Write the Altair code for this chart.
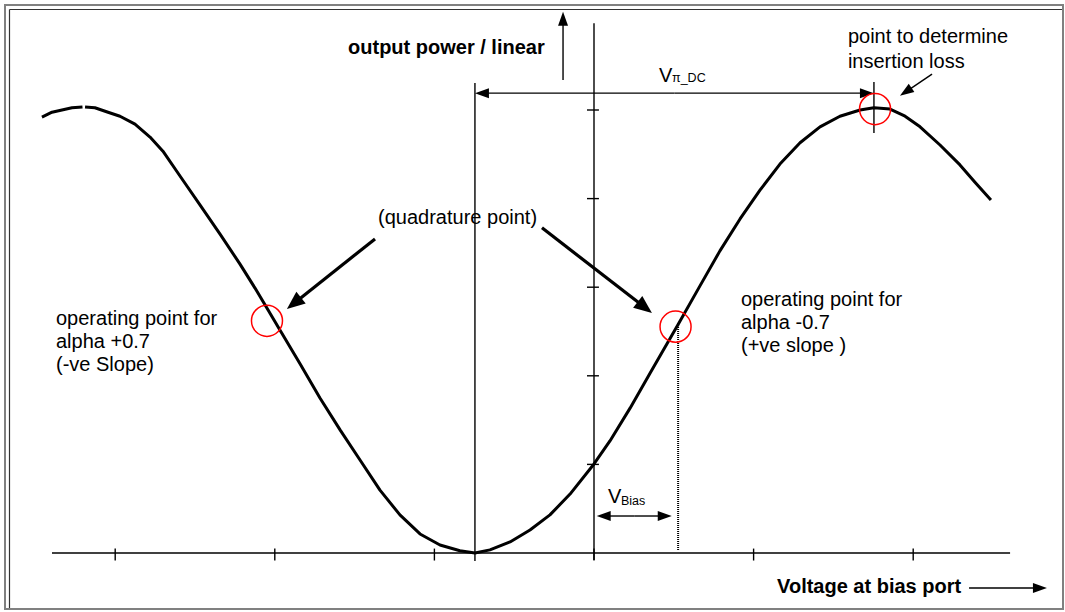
import math
import altair as alt
import pandas as pd

# ---------------------------------------------------------------------------
# Modulator transfer curve: bias voltage (V) vs. output power normalised to peak
# ---------------------------------------------------------------------------
volt_a = [-3.459, -3.396, -3.271, -3.205]
power_a = [0.984, 0.995, 1.005, 1.007]

volt_b = [-3.189, -3.127, -3.045, -2.970, -2.876, -2.782, -2.701, -2.594, -2.469, -2.343,
          -2.218, -2.124, -2.043, -1.967, -1.842, -1.717, -1.591, -1.466, -1.341, -1.216,
          -1.090, -0.965, -0.840, -0.746, -0.652, -0.526, -0.401, -0.276, -0.150, 0.000,
          0.100, 0.226, 0.351, 0.526, 0.664, 0.789, 0.915, 1.040, 1.165, 1.291,
          1.416, 1.541, 1.667, 1.754, 1.855, 1.949, 2.043, 2.168, 2.293, 2.387,
          2.487]
power_b = [1.007, 1.005, 0.995, 0.986, 0.968, 0.939, 0.907, 0.851, 0.786, 0.720,
           0.652, 0.598, 0.549, 0.503, 0.427, 0.350, 0.278, 0.210, 0.142, 0.086,
           0.043, 0.018, 0.005, 0.000, 0.007, 0.025, 0.052, 0.086, 0.133, 0.201,
           0.253, 0.327, 0.406, 0.515, 0.603, 0.682, 0.754, 0.819, 0.878, 0.926,
           0.962, 0.986, 1.000, 1.005, 1.002, 0.986, 0.962, 0.921, 0.876, 0.837,
           0.797]

# axis tick values
x_ticks = [-3, -2, -1, 0, 1, 2]
y_ticks = [0.2, 0.4, 0.6, 0.8, 1.0]

# characteristic points
v_min, v_max = -0.746, 1.754       # minimum and maximum of the curve (V_pi apart)
v_bias = 0.527                      # chosen bias (quadrature, +ve slope)

# marked operating points (red circles)
circ_u = [-2.049, 0.511, 1.761]
circ_v = [0.524, 0.511, 1.002]

# ---------------------------------------------------------------------------
# canvas geometry
# ---------------------------------------------------------------------------
W, H = 1065, 612
X0, Y0 = 594, 553          # where the axes cross on the canvas
SX, SY = 159.6, 443.0      # pixels per volt, pixels per unit power
xs = alt.Scale(domain=[-X0 / SX, (W - X0) / SX], nice=False, zero=False)
ys = alt.Scale(domain=[-(H - Y0) / SY, Y0 / SY], nice=False, zero=False)
X = lambda f="u": alt.X(f"{f}:Q", scale=xs, axis=None)
Y = lambda f="v": alt.Y(f"{f}:Q", scale=ys, axis=None)

FONT = "Liberation Sans"

# ---------------------------------------------------------------------------
# curve
# ---------------------------------------------------------------------------
curve_df = pd.DataFrame({
    "u": volt_a + volt_b,
    "v": power_a + power_b,
    "seg": ["a"] * len(volt_a) + ["b"] * len(volt_b),
    "i": list(range(len(volt_a) + len(volt_b))),
})
curve = alt.Chart(curve_df).mark_line(color="black", strokeWidth=3, strokeJoin="round").encode(
    x=X(), y=Y(), detail="seg:N", order="i:Q")

# ---------------------------------------------------------------------------
# axes, ticks and guide lines
# ---------------------------------------------------------------------------
thin_rows = [
    (-3.396, 0.0, 2.607, 0.0),          # voltage axis
    (0.0, -0.016, 0.0, 1.196),          # power axis
    (v_min, -0.018, v_min, 1.061),      # line through the minimum
    (v_max, 0.948, v_max, 1.063),       # line through the maximum
]
thin_rows += [(t, 0.010, t, -0.017) for t in x_ticks]
thin_rows += [(-0.044, t, 0.031, t) for t in y_ticks]
thin_df = pd.DataFrame(thin_rows, columns=["u", "v", "u2", "v2"])
thin = alt.Chart(thin_df).mark_rule(color="black", strokeWidth=1.4).encode(
    x=X(), y=Y(), x2="u2:Q", y2="v2:Q")

dotted = alt.Chart(pd.DataFrame({"u": [v_bias], "v": [0.519], "v2": [0.007]})).mark_rule(
    color="black", strokeWidth=2, strokeDash=[1, 1]).encode(x=X(), y=Y(), y2="v2:Q")

# ---------------------------------------------------------------------------
# arrows: (style, start u, start v, tip u, tip v)
# ---------------------------------------------------------------------------
mid_pi = (v_min + v_max) / 2
mid_b = (0.017 + 0.487) / 2
arrow_rows = [
    ("bold", -1.372, 0.709, -1.924, 0.551),
    ("bold", -0.326, 0.734, 0.363, 0.542),
    ("thin", 2.118, 1.081, 1.917, 1.032),
    ("thin", -0.194, 1.068, -0.194, 1.222),
    ("thin", 2.350, -0.079, 2.838, -0.079),
    ("thin", mid_pi, 1.038, v_min, 1.038),
    ("thin", mid_pi, 1.038, v_max, 1.038),
    ("thin", mid_b, 0.0835, 0.017, 0.0835),
    ("thin", mid_b, 0.0835, 0.487, 0.0835),
]
HEAD = {"bold": (18.0, 7.5, 3.2), "thin": (14.0, 5.0, 1.4)}   # length, half width, shaft
shafts, heads = [], []
for style, u1, v1, u2, v2 in arrow_rows:
    L, hw, sw = HEAD[style]
    dx, dy = (u2 - u1) * SX, -(v2 - v1) * SY
    ang = math.atan2(dy, dx)
    back = 0.6 * L
    ue = u2 - back * math.cos(ang) / SX
    ve = v2 + back * math.sin(ang) / SY
    shafts.append({"style": style, "u": u1, "v": v1, "u2": ue, "v2": ve, "w": sw})
    heads.append({"style": style, "u": u2, "v": v2,
                  "angle": math.degrees(ang) % 360, "size": (2 * L) ** 2})
shaft_df = pd.DataFrame(shafts)
head_df = pd.DataFrame(heads)

shaft = alt.Chart(shaft_df).mark_rule(color="black").encode(
    x=X(), y=Y(), x2="u2:Q", y2="v2:Q",
    strokeWidth=alt.StrokeWidth("w:Q", scale=None))

def head_layer(style, half):
    path = f"M0,0L-1,{-half:.3f}L-1,{half:.3f}Z"
    return alt.Chart(head_df[head_df["style"] == style]).mark_point(
        shape=path, filled=True, color="black", opacity=1, strokeWidth=0).encode(
        x=X(), y=Y(),
        angle=alt.Angle("angle:Q", scale=None),
        size=alt.Size("size:Q", scale=None))

heads_bold = head_layer("bold", HEAD["bold"][1] / HEAD["bold"][0])
heads_thin = head_layer("thin", HEAD["thin"][1] / HEAD["thin"][0])

# ---------------------------------------------------------------------------
# red circles
# ---------------------------------------------------------------------------
circles = alt.Chart(pd.DataFrame({"u": circ_u, "v": circ_v})).mark_point(
    shape="circle", filled=False, color="#ff0000", strokeWidth=1.5, opacity=1,
    size=math.pi * 17.5 ** 2).encode(x=X(), y=Y())

# ---------------------------------------------------------------------------
# labels (left edge, baseline)
# ---------------------------------------------------------------------------
normal_labels = pd.DataFrame([
    ("point to determine", 1.591, 1.151),
    ("insertion loss", 1.591, 1.094),
    ("(quadrature point)", -1.353, 0.743),
    ("operating point for", -3.371, 0.515),
    ("alpha +0.7", -3.371, 0.463),
    ("(-ve Slope)", -3.371, 0.411),
    ("operating point for", 0.921, 0.558),
    ("alpha -0.7", 0.921, 0.506),
    ("(+ve slope )", 0.921, 0.454),
    ("V", 0.407, 1.063),
    ("V", 0.088, 0.113),
], columns=["t", "u", "v"])
bold_labels = pd.DataFrame([
    ("output power / linear", -1.541, 1.126),
    ("Voltage at bias port", 1.147, -0.090),
], columns=["t", "u", "v"])
sub_labels = pd.DataFrame([
    ("\u03c0_DC", 0.489, 1.063),
    ("Bias", 0.169, 0.108),
], columns=["t", "u", "v"])

def text_layer(df, size, weight="normal"):
    return alt.Chart(df).mark_text(
        align="left", baseline="alphabetic", font=FONT, fontSize=size,
        fontWeight=weight, color="black").encode(x=X(), y=Y(), text="t:N")

texts = (text_layer(normal_labels, 20) + text_layer(bold_labels, 20, "bold")
         + text_layer(sub_labels, 12.5))

# ---------------------------------------------------------------------------
# frame: grey outer box with a dark inner line along the top and left
# ---------------------------------------------------------------------------
one = pd.DataFrame({"k": [0]})
frame_outer = alt.Chart(one).mark_rect(fillOpacity=0, stroke="#808080", strokeWidth=2).encode(
    x=alt.value(5), x2=alt.value(1063), y=alt.value(5), y2=alt.value(609))
frame_top = alt.Chart(one).mark_rule(color="#333333", strokeWidth=1.2).encode(
    x=alt.value(9.5), x2=alt.value(1062), y=alt.value(9.5))
frame_left = alt.Chart(one).mark_rule(color="#333333", strokeWidth=1.2).encode(
    x=alt.value(9.5), y=alt.value(9.5), y2=alt.value(608))

chart = alt.layer(
    frame_outer, frame_top, frame_left, thin, dotted, curve, shaft, heads_bold, heads_thin,
    circles, texts,
).properties(
    width=W, height=H, padding=0, autosize="none", background="white",
).configure_view(stroke=None)

chart.save("out.html", embed_options={"renderer": "svg", "actions": False})
